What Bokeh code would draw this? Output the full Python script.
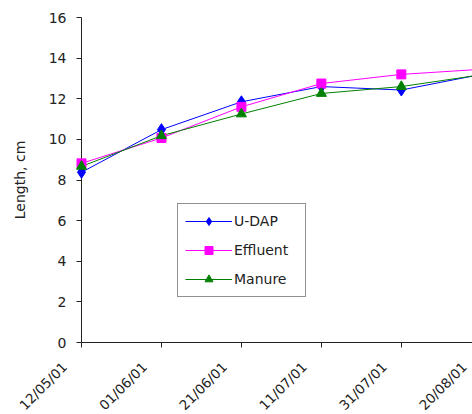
import math
from bokeh.plotting import figure
from bokeh.models import Range1d, FixedTicker, Legend, LegendItem
from bokeh.core.properties import value
from bokeh.embed import file_html
from bokeh.resources import INLINE

# Sampling dates and mean length per fertiliser treatment
dates = ["12/05/01", "01/06/01", "21/06/01", "11/07/01", "31/07/01", "20/08/01"]
udap = [8.38, 10.48, 11.85, 12.6, 12.43, 13.2]
effluent = [8.82, 10.07, 11.6, 12.75, 13.2, 13.45]
manure = [8.67, 10.18, 11.25, 12.26, 12.6, 13.18]
y_ticks = [0, 2, 4, 6, 8, 10, 12, 14, 16]

FONT = "DejaVu Sans"
INK = "#222222"
xs = list(range(len(dates)))

p = figure(width=472, height=414, output_backend="svg", toolbar_location=None,
           x_range=Range1d(0, 4.89), y_range=Range1d(0, 16),
           min_border_left=81, min_border_right=0, min_border_top=17,
           min_border_bottom=72)
p.outline_line_color = None
p.background_fill_color = "white"
p.border_fill_color = "white"
p.grid.visible = False

# x axis: tick marks only; the slanted dates are drawn as text below it
p.xaxis.ticker = FixedTicker(ticks=xs)
p.xaxis.major_label_overrides = {i: "" for i in xs}
p.xaxis.major_label_text_font_size = "0px"
p.xaxis.major_label_standoff = 0
p.xaxis.minor_tick_line_color = None
p.xaxis.major_tick_in = 0
p.xaxis.major_tick_out = 5
p.xaxis.axis_line_color = INK
p.xaxis.major_tick_line_color = INK

# y axis
p.yaxis.ticker = FixedTicker(ticks=y_ticks)
p.yaxis.minor_tick_line_color = None
p.yaxis.major_tick_in = 0
p.yaxis.major_tick_out = 5
p.yaxis.axis_line_color = INK
p.yaxis.major_tick_line_color = INK
p.yaxis.major_label_text_font = FONT
p.yaxis.major_label_text_font_size = "14px"
p.yaxis.major_label_text_color = INK
p.yaxis.major_label_standoff = 10
p.yaxis.axis_label = "Length, cm"
p.yaxis.axis_label_text_font = FONT
p.yaxis.axis_label_text_font_size = "14px"
p.yaxis.axis_label_text_font_style = "normal"
p.yaxis.axis_label_text_color = INK
p.yaxis.axis_label_standoff = 18

# slanted date labels, anchored at their right end just left of each tick
p.text(x=xs, y=[0] * len(xs), text=dates, angle=math.pi / 4,
       text_align="right", text_baseline="middle",
       x_offset=-17, y_offset=22, text_font=value(FONT),
       text_font_size="13.5px", text_color=INK, level="overlay")

l1 = p.line(xs, udap, line_color="blue", line_width=1)
m1 = p.scatter(xs, udap, marker="diamond", size=12, fill_color="blue",
               line_color="blue", level="overlay")
l2 = p.line(xs, effluent, line_color="magenta", line_width=1)
m2 = p.scatter(xs, effluent, marker="square", size=9, fill_color="magenta",
               line_color="magenta", level="overlay")
l3 = p.line(xs, manure, line_color="green", line_width=1)
m3 = p.scatter(xs, manure, marker="triangle", size=10, fill_color="green",
               line_color="green", level="overlay")

legend = Legend(items=[
    LegendItem(label="U-DAP", renderers=[l1, m1]),
    LegendItem(label="Effluent", renderers=[l2, m2]),
    LegendItem(label="Manure", renderers=[l3, m3]),
], location=(96, 45))
legend.label_text_font = FONT
legend.label_text_font_size = "14px"
legend.label_text_color = INK
legend.border_line_color = INK
legend.border_line_width = 1
legend.background_fill_alpha = 1
legend.glyph_width = 47
legend.glyph_height = 20
legend.label_height = 20
legend.label_width = 64
legend.spacing = 9
legend.padding = 7
legend.margin = 0
legend.label_standoff = 2
p.add_layout(legend, "center")

open("out.html", "w").write(file_html(p, INLINE))
